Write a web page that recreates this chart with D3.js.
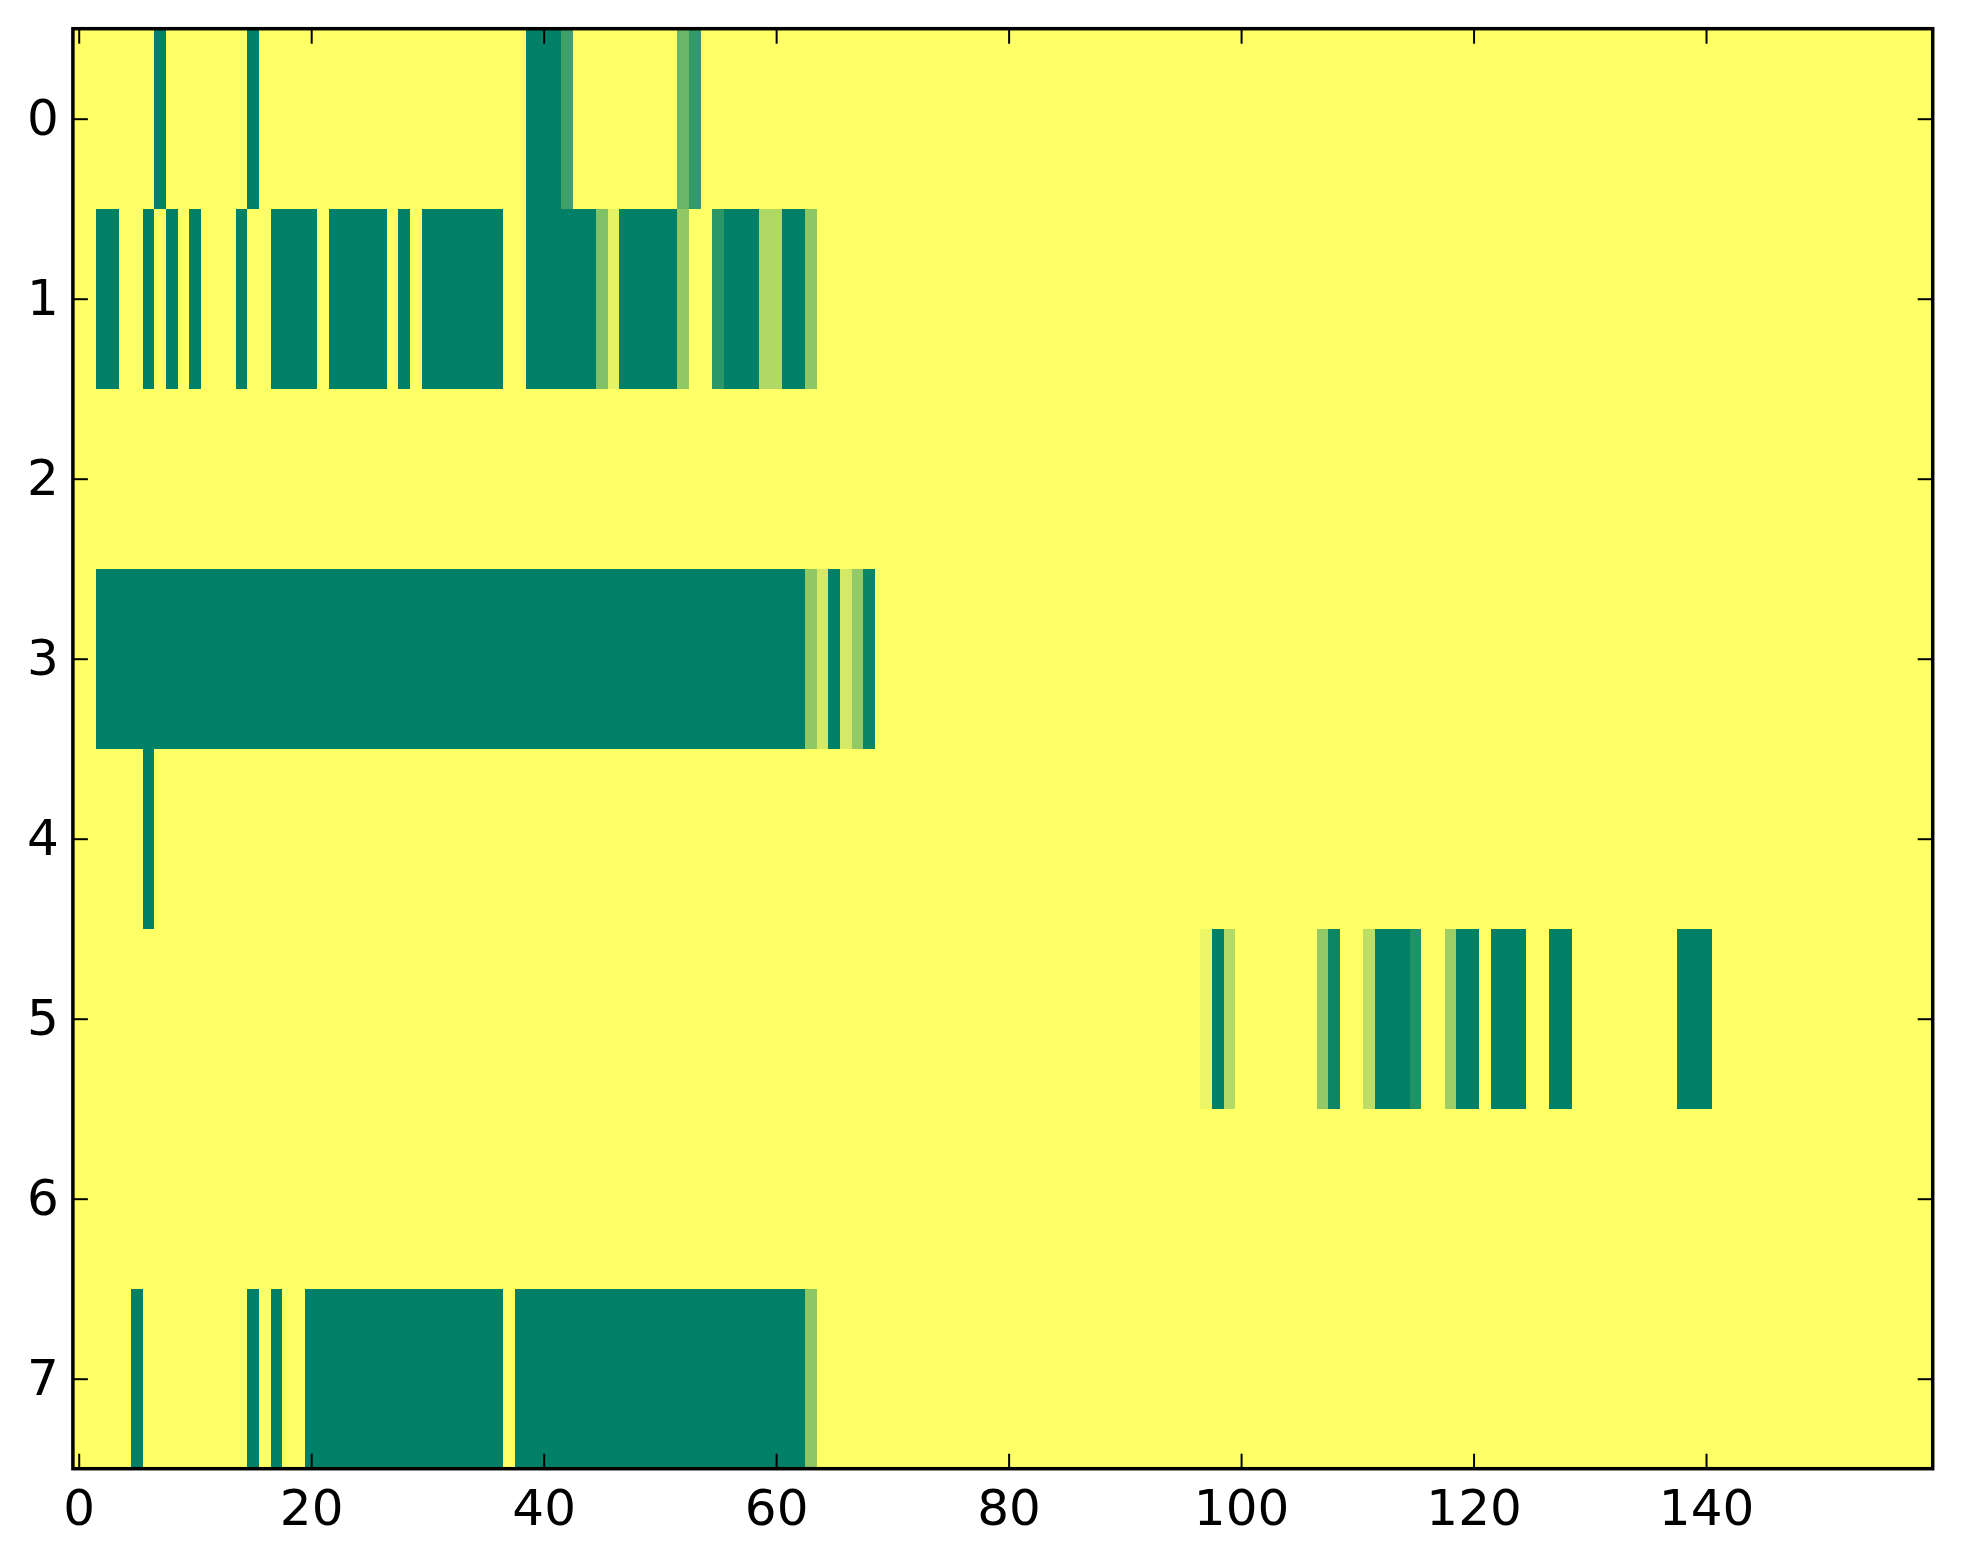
<!DOCTYPE html>
<html>
<head>
<meta charset="utf-8">
<script src="https://cdn.jsdelivr.net/npm/d3@7/dist/d3.min.js"></script>
<style>
  body { margin: 0; background: #fff; }
  .tick text { font-family: "DejaVu Sans", sans-serif; font-size: 50px; fill: #000; }
</style>
</head>
<body>
<script>
// number of columns and rows in the matrix
var nCols = 160;
var rowIds = [0, 1, 2, 3, 4, 5, 6, 7];

// non-zero cells per row, as runs: [firstCol, lastCol, value]
var row0 = [[7, 7, 1], [15, 15, 1], [39, 41, 1], [42, 42, 0.75], [52, 52, 0.58], [53, 53, 0.8]];
var row1 = [[2, 3, 1], [6, 6, 1], [8, 8, 1], [10, 10, 1], [14, 14, 1], [17, 20, 1],
            [22, 26, 1], [28, 28, 1], [30, 36, 1], [39, 44, 1], [45, 45, 0.5], [46, 46, 0.1],
            [47, 51, 1], [52, 52, 0.43], [55, 55, 0.83], [56, 58, 1], [59, 60, 0.31],
            [61, 62, 1], [63, 63, 0.45]];
var row2 = [];
var row3 = [[2, 62, 1], [63, 63, 0.43], [64, 64, 0.17], [65, 65, 1], [66, 66, 0.17],
            [67, 67, 0.42], [68, 68, 0.96]];
var row4 = [[6, 6, 1]];
var row5 = [[97, 97, 0.07], [98, 98, 1], [99, 99, 0.3], [107, 107, 0.42], [108, 108, 0.95],
            [111, 111, 0.26], [112, 114, 1], [115, 115, 0.87], [118, 118, 0.38], [119, 120, 1],
            [122, 124, 1], [127, 128, 1], [138, 140, 1]];
var row6 = [];
var row7 = [[5, 5, 1], [15, 15, 1], [17, 17, 1], [20, 36, 1], [38, 62, 1], [63, 63, 0.45]];

var xTicks = [0, 20, 40, 60, 80, 100, 120, 140];
var yTicks = [0, 1, 2, 3, 4, 5, 6, 7];

// build the full grid from the runs
var runs = [row0, row1, row2, row3, row4, row5, row6, row7];
var cells = [];
rowIds.forEach(function(r, i) {
  var vals = new Array(nCols).fill(0);
  runs[i].forEach(function(run) {
    for (var c = run[0]; c <= run[1]; c++) vals[c] = run[2];
  });
  vals.forEach(function(v, c) { cells.push({row: r, col: c, value: v}); });
});

var width = 1963, height = 1564;
var plot = {left: 72.9, right: 1932.7, top: 28.7, bottom: 1468.7};

var svg = d3.select("body").append("svg")
    .attr("width", width)
    .attr("height", height);

var x = d3.scaleLinear().domain([-0.5, nCols - 0.5]).range([plot.left, plot.right]);
var y = d3.scaleLinear().domain([-0.5, rowIds.length - 0.5]).range([plot.top, plot.bottom]);

// summer_r colour map
var color = d3.scaleLinear().domain([0, 1]).range(["#ffff66", "#008066"]);

svg.append("g")
    .attr("shape-rendering", "crispEdges")
  .selectAll("rect")
    .data(cells)
  .enter().append("rect")
    .attr("x", function(d) { return x(d.col - 0.5); })
    .attr("y", function(d) { return y(d.row - 0.5); })
    .attr("width", function(d) { return x(d.col + 0.5) - x(d.col - 0.5) + 0.5; })
    .attr("height", function(d) { return y(d.row + 0.5) - y(d.row - 0.5) + 0.5; })
    .attr("fill", function(d) { return color(d.value); });

// axes, ticks pointing inward on all four sides
function styleAxis(g) {
  g.select(".domain").remove();
  g.selectAll(".tick line").attr("stroke", "#000").attr("stroke-width", 2);
}

svg.append("g")
    .attr("transform", "translate(0," + plot.bottom + ")")
    .call(d3.axisBottom(x).tickValues(xTicks).tickSize(-15).tickPadding(21))
    .call(styleAxis);

svg.append("g")
    .attr("transform", "translate(0," + plot.top + ")")
    .call(d3.axisTop(x).tickValues(xTicks).tickSize(-15).tickFormat(""))
    .call(styleAxis);

svg.append("g")
    .attr("transform", "translate(" + plot.left + ",0)")
    .call(d3.axisLeft(y).tickValues(yTicks).tickSize(-15).tickPadding(14))
    .call(styleAxis);

svg.append("g")
    .attr("transform", "translate(" + plot.right + ",0)")
    .call(d3.axisRight(y).tickValues(yTicks).tickSize(-15).tickFormat(""))
    .call(styleAxis);

svg.selectAll(".tick text").attr("font-family", null).attr("font-size", null);

// frame
svg.append("rect")
    .attr("x", plot.left)
    .attr("y", plot.top)
    .attr("width", plot.right - plot.left)
    .attr("height", plot.bottom - plot.top)
    .attr("fill", "none")
    .attr("stroke", "#000")
    .attr("stroke-width", 3.5);
</script>
</body>
</html>
